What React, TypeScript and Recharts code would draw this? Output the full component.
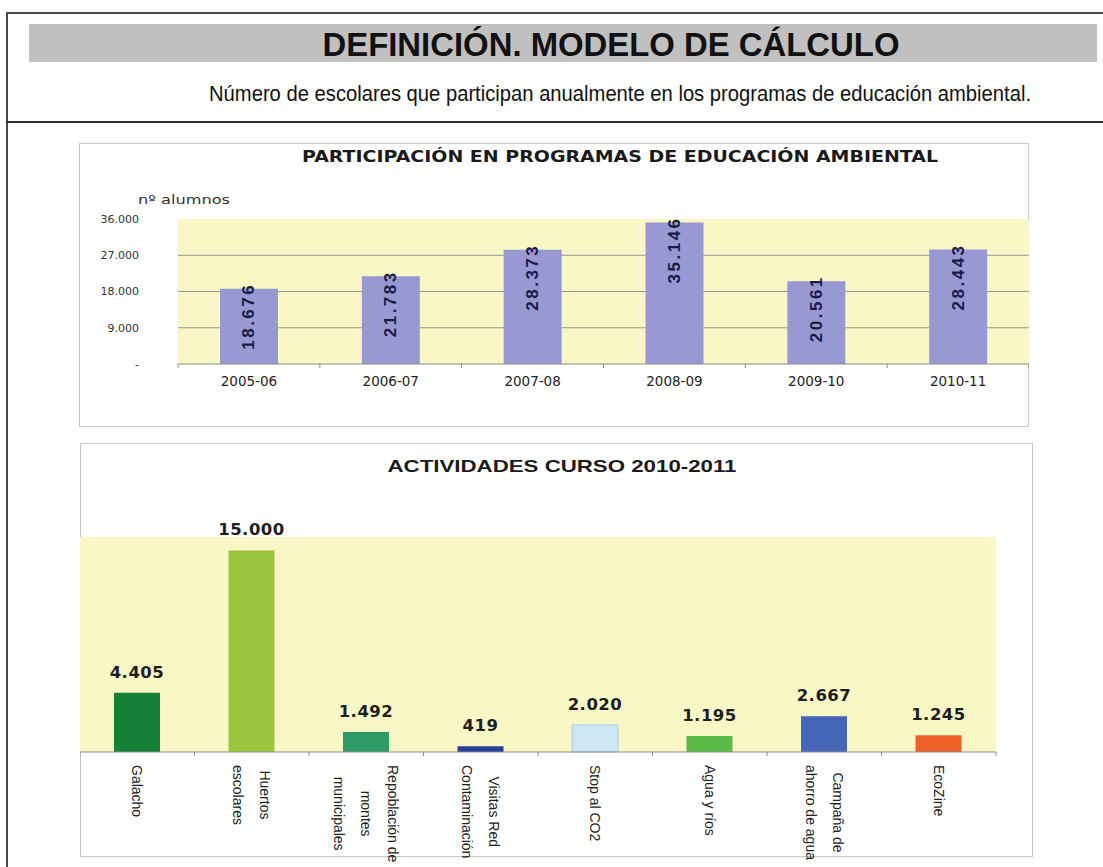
import React from "react";
import { BarChart, Bar, XAxis, YAxis, CartesianGrid, LabelList, Cell } from "recharts";

// Participación anual
const cursos = ["2005-06", "2006-07", "2007-08", "2008-09", "2009-10", "2010-11"];
const alumnos = [18676, 21783, 28373, 35146, 20561, 28443];
const alumnosTicks = [0, 9000, 18000, 27000, 36000];

// Actividades curso 2010-2011
const actividades = [
  "Galacho",
  "Huertos\nescolares",
  "Repoblación de\nmontes\nmunicipales",
  "Visitas Red\nContaminación",
  "Stop al CO2",
  "Agua y ríos",
  "Campaña de\nahorro de agua",
  "EcoZine",
];
const participantes = [4405, 15000, 1492, 419, 2020, 1195, 2667, 1245];
const coloresActividad = ["#178037", "#9bc53d", "#2e9a66", "#283f9a", "#cde8f4", "#5bbb47", "#4565b7", "#ef5f28"];

const SANS = "'Liberation Sans', Arial, sans-serif";
const WIDE = "'DejaVu Sans', Verdana, sans-serif";
const NARROW = "'Liberation Sans Narrow', 'Arial Narrow', 'Liberation Sans', sans-serif";
const YELLOW = "#faf7c6";

const fmt = (v: number) => (v === 0 ? "-" : String(v).replace(/\B(?=(\d{3})+(?!\d))/g, "."));

let ctx: CanvasRenderingContext2D | null = null;
const measure = (s: string, font: string) => {
  if (!ctx && typeof document !== "undefined") ctx = document.createElement("canvas").getContext("2d");
  if (!ctx) return s.length * 7;
  ctx.font = font;
  return ctx.measureText(s).width;
};

const data1 = cursos.map((c, i) => ({ curso: c, alumnos: alumnos[i] }));
const data2 = actividades.map((a, i) => ({ actividad: a, valor: participantes[i] }));

const CursoTick = (p: any) => {
  const off = p.payload?.offset ?? 0;
  return (
    <g>
      <line x1={p.x - off} x2={p.x - off} y1={p.y} y2={p.y + 4} stroke="#8c8c8c" />
      {p.index === cursos.length - 1 && <line x1={p.x + off} x2={p.x + off} y1={p.y} y2={p.y + 4} stroke="#8c8c8c" />}
      <text x={p.x} y={p.y + 22} textAnchor="middle" fontFamily={WIDE} fontSize={13.5} fill="#222">
        {p.payload.value}
      </text>
    </g>
  );
};

const RotLabel = (p: any) => {
  const cx = p.x + p.width / 2;
  const ty = p.y - 6;
  return (
    <text
      x={cx}
      y={ty}
      transform={`rotate(-90 ${cx} ${ty})`}
      textAnchor="end"
      dominantBaseline="central"
      fontFamily={SANS}
      fontWeight="bold"
      fontSize={17}
      letterSpacing={2.5}
      fill="#1b1b45"
    >
      {fmt(p.value)}
    </text>
  );
};

// etiquetas giradas, varias líneas centradas como en Excel
const ActividadTick = (p: any) => {
  const off = p.payload?.offset ?? 0;
  const lines: string[] = String(p.payload.value).split("\n");
  const font = `14px ${SANS}`;
  const maxLen = Math.max(...lines.map((l) => measure(l, font)));
  const y0 = p.y + 13;
  return (
    <g>
      <line x1={p.x - off} x2={p.x - off} y1={p.y} y2={p.y + 4} stroke="#8c8c8c" />
      {p.index === actividades.length - 1 && <line x1={p.x + off} x2={p.x + off} y1={p.y} y2={p.y + 4} stroke="#8c8c8c" />}
      <g transform={`translate(${p.x},${y0}) rotate(90)`}>
        {lines.map((l, i) => (
          <text
            key={i}
            x={maxLen / 2}
            y={(i - (lines.length - 1) / 2) * 27}
            textAnchor="middle"
            dominantBaseline="central"
            fontFamily={SANS}
            fontSize={14}
            fill="#222"
          >
            {l}
          </text>
        ))}
      </g>
    </g>
  );
};

const ValueLabel = (p: any) => (
  <text
    x={p.x + p.width / 2}
    y={p.y - 15}
    textAnchor="middle"
    fontFamily={WIDE}
    fontWeight="bold"
    fontSize={16.5}
    letterSpacing={0.5}
    fill="#1e1e1e"
  >
    {fmt(p.value)}
  </text>
);

const abs = (s: React.CSSProperties): React.CSSProperties => ({ position: "absolute", ...s });

const App = () => (
  <div style={abs({ left: 0, top: 0, width: 1103, height: 867, overflow: "hidden", background: "#fff" })}>
    {/* marco de la ficha */}
    <div style={abs({ left: 6, top: 12, width: 1097, height: 2, background: "#4a4a4a" })} />
    <div style={abs({ left: 6, top: 12, width: 2, height: 855, background: "#4a4a4a" })} />
    <div style={abs({ left: 29, top: 24, width: 1068, height: 38, background: "#c0c0c0" })} />
    <div style={abs({ left: 6, top: 121, width: 1097, height: 2, background: "#2e2e2e" })} />

    {/* gráfico 1 */}
    <div style={abs({ left: 79, top: 143, width: 950, height: 284, border: "1px solid #c6c6c6", boxSizing: "border-box" })} />
    <div style={abs({ left: 79, top: 143 })}>
      <BarChart width={950} height={283} data={data1} margin={{ top: 76, right: 0, bottom: 0, left: 0 }} barSize={58}>
        <CartesianGrid fill={YELLOW} vertical={false} stroke="#959595" horizontalValues={[9000, 18000, 27000]} />
        <XAxis
          dataKey="curso"
          height={62}
          interval={0}
          axisLine={{ stroke: "#8c8c8c" }}
          tickLine={false}
          tickSize={0}
          tickMargin={0}
          tick={<CursoTick />}
        />
        <YAxis
          width={99}
          domain={[0, 36000]}
          ticks={alumnosTicks}
          axisLine={false}
          tickLine={false}
          tickSize={0}
          tickMargin={39}
          tickFormatter={fmt}
          tick={{ fontFamily: WIDE, fontSize: 11, fill: "#333" }}
        />
        <Bar dataKey="alumnos" fill="#9898d3" isAnimationActive={false}>
          <LabelList dataKey="alumnos" content={<RotLabel />} />
        </Bar>
      </BarChart>
    </div>

    {/* gráfico 2 */}
    <div style={abs({ left: 80, top: 443, width: 953, height: 414, border: "1px solid #c6c6c6", boxSizing: "border-box" })} />
    <div style={abs({ left: 80, top: 443 })}>
      <BarChart width={953} height={424} data={data2} margin={{ top: 94, right: 37, bottom: 0, left: 0 }} barSize={46}>
        <CartesianGrid fill={YELLOW} vertical={false} horizontal={false} />
        <XAxis
          dataKey="actividad"
          height={115}
          interval={0}
          axisLine={{ stroke: "#8c8c8c" }}
          tickLine={false}
          tickSize={0}
          tickMargin={0}
          tick={<ActividadTick />}
        />
        <YAxis hide domain={[0, 16000]} />
        <Bar dataKey="valor" isAnimationActive={false}>
          {data2.map((d, i) => (
            <Cell key={d.actividad} fill={coloresActividad[i]} stroke={i === 4 ? "#a8cbdc" : "none"} />
          ))}
          <LabelList dataKey="valor" content={<ValueLabel />} />
        </Bar>
      </BarChart>
    </div>

    {/* textos */}
    <svg width={1103} height={867} style={abs({ left: 0, top: 0, pointerEvents: "none" })}>
      <text x={611} y={56} textAnchor="middle" fontFamily={NARROW} fontWeight="bold" fontSize={34} textLength={577} lengthAdjust="spacingAndGlyphs" fill="#111">
        DEFINICIÓN. MODELO DE CÁLCULO
      </text>
      <text x={620} y={101} textAnchor="middle" fontFamily={NARROW} fontSize={22} textLength={822} lengthAdjust="spacingAndGlyphs" fill="#111">
        Número de escolares que participan anualmente en los programas de educación ambiental.
      </text>
      <text x={620} y={162} textAnchor="middle" fontFamily={WIDE} fontWeight="bold" fontSize={15.5} textLength={636} lengthAdjust="spacingAndGlyphs" fill="#1a1a1a">
        PARTICIPACIÓN EN PROGRAMAS DE EDUCACIÓN AMBIENTAL
      </text>
      <text x={184} y={204} textAnchor="middle" fontFamily={WIDE} fontSize={12.5} textLength={92} lengthAdjust="spacingAndGlyphs" fill="#333">
        nº alumnos
      </text>
      <text x={562} y={472} textAnchor="middle" fontFamily={SANS} fontWeight="bold" fontSize={17} textLength={349} lengthAdjust="spacingAndGlyphs" fill="#1a1a1a">
        ACTIVIDADES CURSO 2010-2011
      </text>
    </svg>
  </div>
);

export default App;
